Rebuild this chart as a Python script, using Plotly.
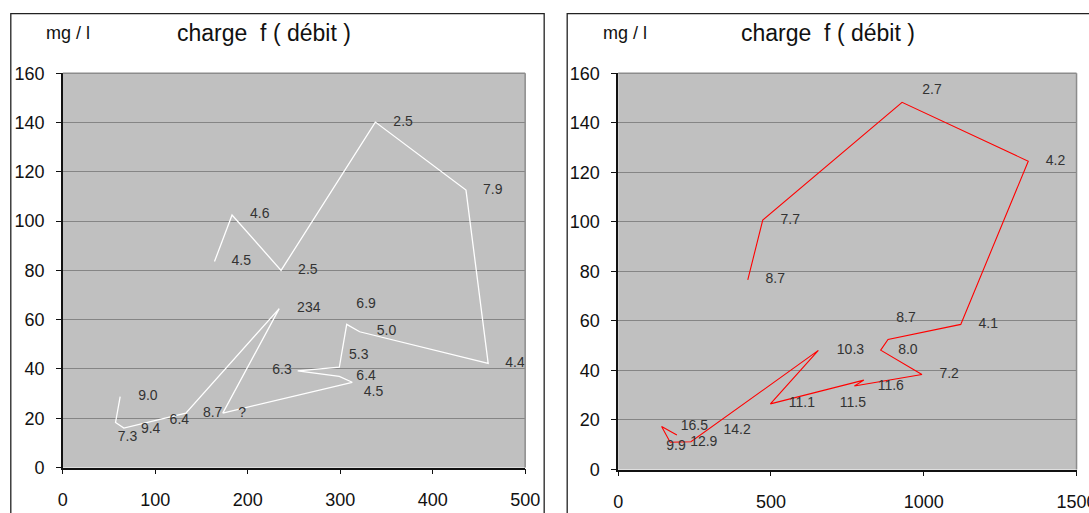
import plotly.graph_objects as go

# ---------------- Left panel data ----------------
left_x = [62, 57, 66, 133, 234, 173, 313, 299, 254, 299, 307, 321, 460, 436, 338, 236, 183, 164]
left_y = [28.8, 18.3, 16.0, 22.1, 64.5, 22.1, 34.6, 37.0, 39.2, 40.7, 58.1, 55.1, 42.3, 112.6, 140.2, 80.0, 102.5, 83.6]

left_lab_x = [368, 465, 213, 193, 265, 266, 328, 350, 320, 237, 328, 336, 489, 92, 162, 194, 126, 95, 70]
left_lab_y = [140.2, 112.6, 102.5, 83.6, 80.0, 64.5, 66.3, 55.1, 45.3, 39.2, 36.9, 30.4, 42.3, 28.8, 21.8, 22.1, 18.9, 15.4, 12.0]
left_lab_t = ["2.5", "7.9", "4.6", "4.5", "2.5", "234", "6.9", "5.0", "5.3", "6.3", "6.4", "4.5", "4.4",
              "9.0", "8.7", "?", "6.4", "9.4", "7.3"]

# ---------------- Right panel data ----------------
right_x = [192, 142, 170, 238, 655, 498, 804, 773, 994, 859, 883, 1121, 1342, 929, 473, 424]
right_y = [13.9, 17.4, 11.0, 11.2, 48.1, 26.5, 36.1, 33.7, 38.4, 48.2, 52.5, 58.6, 124.5, 148.3, 100.7, 76.6]

right_lab_x = [1027, 1431, 563, 514, 942, 1211, 760, 948, 1083, 892, 601, 768, 249, 389, 280, 189]
right_lab_y = [152.9, 124.5, 100.4, 76.6, 60.9, 58.6, 48.2, 48.2, 38.4, 33.7, 26.5, 26.5, 17.4, 15.8, 11.0, 9.1]
right_lab_t = ["2.7", "4.2", "7.7", "8.7", "8.7", "4.1", "10.3", "8.0", "7.2", "11.6", "11.1", "11.5",
               "16.5", "14.2", "12.9", "9.9"]

y_ticks = [0, 20, 40, 60, 80, 100, 120, 140, 160]
left_x_ticks = [0, 100, 200, 300, 400, 500]
right_x_ticks = [0, 500, 1000, 1500]

title_text = "charge  f ( débit )"
unit_text = "mg / l"

FONT = "Liberation Sans, Arial, sans-serif"

# calibration between figure pixels and the photographed page
SX, OX, SY, OY = 0.977, 4.2, 0.967, 8.4
W, H = 1120, 535


def fx(X):
    return (X - OX) / SX


def fy(Y):
    return (Y - OY) / SY


def px(X):
    return fx(X) / W


def py(Y):
    return (H - fy(Y)) / H


fig = go.Figure()
fig.add_trace(go.Scatter(x=left_x, y=left_y, mode="lines", line=dict(color="white", width=1.3),
                         xaxis="x", yaxis="y", showlegend=False, hoverinfo="skip"))
fig.add_trace(go.Scatter(x=left_lab_x, y=left_lab_y, text=left_lab_t, mode="text",
                         textfont=dict(family=FONT, size=14, color="#333333"),
                         xaxis="x", yaxis="y", showlegend=False, hoverinfo="skip", cliponaxis=False))
fig.add_trace(go.Scatter(x=right_x, y=right_y, mode="lines", line=dict(color="#ff0000", width=1.1),
                         xaxis="x2", yaxis="y2", showlegend=False, hoverinfo="skip"))
fig.add_trace(go.Scatter(x=right_lab_x, y=right_lab_y, text=right_lab_t, mode="text",
                         textfont=dict(family=FONT, size=14, color="#333333"),
                         xaxis="x2", yaxis="y2", showlegend=False, hoverinfo="skip", cliponaxis=False))

axis_common = dict(showline=True, linecolor="#111111", linewidth=1.5, ticks="outside", ticklen=5,
                   tickcolor="#111111", tickfont=dict(family=FONT, size=18, color="#111111"),
                   zeroline=False)

fig.update_layout(
    width=W, height=H, margin=dict(l=0, r=0, t=0, b=0),
    paper_bgcolor="white", plot_bgcolor="#c0c0c0",
    font=dict(family=FONT),
    xaxis=dict(domain=[px(62), px(524)], range=[0, 500], tickvals=left_x_ticks, showgrid=False,
               anchor="y", ticklabelstandoff=10, **axis_common),
    yaxis=dict(domain=[py(468), py(72)], range=[0, 160], tickvals=y_ticks, showgrid=True,
               gridcolor="#858585", gridwidth=1, anchor="x", ticklabelstandoff=8, **axis_common),
    xaxis2=dict(domain=[px(617), px(1075)], range=[0, 1500], tickvals=right_x_ticks, showgrid=False,
                anchor="y2", ticklabelstandoff=10, **axis_common),
    yaxis2=dict(domain=[py(470), py(72)], range=[0, 160], tickvals=y_ticks, showgrid=True,
                gridcolor="#858585", gridwidth=1, anchor="x2", ticklabelstandoff=8, **axis_common),
)

shapes = []
# plot-area top/right grey edges
for xr, yr in (("x domain", "y domain"), ("x2 domain", "y2 domain")):
    shapes.append(dict(type="line", xref=xr, yref=yr, x0=0, x1=1, y0=1, y1=1,
                       line=dict(color="#8c8c8c", width=1.5), layer="above"))
    shapes.append(dict(type="line", xref=xr, yref=yr, x0=1, x1=1, y0=0, y1=1,
                       line=dict(color="#8c8c8c", width=1.5), layer="above"))
# outer chart frames
shapes.append(dict(type="rect", xref="paper", yref="paper", x0=px(10), x1=px(543), y0=-0.1, y1=py(12),
                   line=dict(color="#222222", width=1.3), layer="below"))
shapes.append(dict(type="rect", xref="paper", yref="paper", x0=px(566), x1=1.1, y0=-0.1, y1=py(12),
                   line=dict(color="#222222", width=1.3), layer="below"))
fig.update_layout(shapes=shapes)

annotations = []
for cx, ux in ((263, 67), (827, 624)):
    annotations.append(dict(xref="paper", yref="paper", x=px(cx), y=py(32), text=title_text,
                            showarrow=False, font=dict(family=FONT, size=23, color="#111111"),
                            xanchor="center", yanchor="middle"))
    annotations.append(dict(xref="paper", yref="paper", x=px(ux), y=py(32), text=unit_text,
                            showarrow=False, font=dict(family=FONT, size=18, color="#111111"),
                            xanchor="center", yanchor="middle"))
fig.update_layout(annotations=annotations)

fig.write_html("out.html")
